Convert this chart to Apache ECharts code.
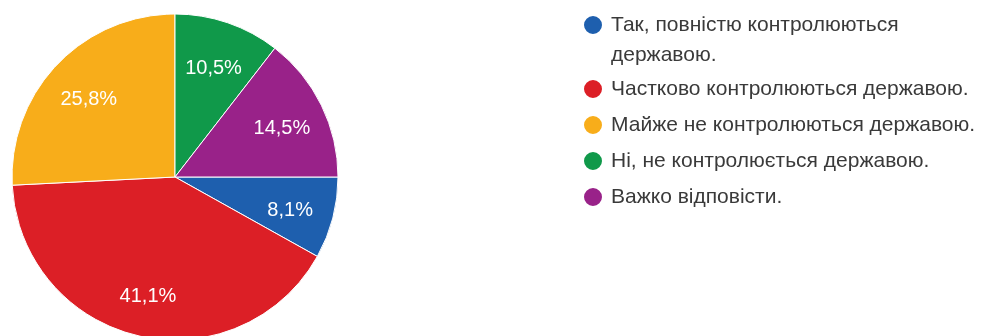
<!DOCTYPE html>
<html>
<head>
<meta charset="utf-8">
<style>
  html, body { margin: 0; padding: 0; background: #ffffff; }
  #chart { width: 988px; height: 336px; }
</style>
<script src="https://cdn.jsdelivr.net/npm/echarts@6/dist/echarts.min.js"></script>
</head>
<body>
<div id="chart"></div>
<script>
// Answer options, in legend order
const categories = [
  'Так, повністю контролюються державою.',
  'Частково контролюються державою.',
  'Майже не контролюються державою.',
  'Ні, не контролюється державою.',
  'Важко відповісти.'
];
// Share of responses, %
const shares = [8.1, 41.1, 25.8, 10.5, 14.5];
const colors = ['#1e5fae', '#dc1f26', '#f8ad1a', '#10994a', '#992289'];

const chart = echarts.init(document.getElementById('chart'), null, { renderer: 'canvas' });

const pieData = categories.map((name, i) => ({
  name: name,
  value: shares[i],
  itemStyle: { color: colors[i] }
}));

const fmt = p => String(p.value).replace('.', ',') + '%';

// The first option is long, so it wraps after the third word; the leading
// empty line keeps the marker level with the first text line.
const legendFormatter = name => name === categories[0]
  ? '\nТак, повністю контролюються\nдержавою.'
  : name;

chart.setOption({
  animation: false,
  backgroundColor: '#ffffff',
  legend: {
    orient: 'vertical',
    left: 582,
    top: -20,
    padding: 0,
    icon: 'circle',
    itemWidth: 26,
    itemHeight: 20,
    itemGap: 2,
    formatter: legendFormatter,
    data: categories.map((name, i) => i === 0
      ? { name: name, textStyle: { lineHeight: 30 } }
      : { name: name }),
    textStyle: {
      fontFamily: 'Liberation Sans, Arial, sans-serif',
      fontSize: 21,
      color: '#3a3a3a',
      lineHeight: 34
    }
  },
  series: [
    {
      type: 'pie',
      center: [175, 177],
      radius: [0, 163],
      startAngle: 0,
      clockwise: true,
      silent: true,
      data: pieData,
      itemStyle: { borderColor: '#ffffff', borderWidth: 1 },
      label: { show: false },
      labelLine: { show: false }
    },
    {
      // transparent ring used only to place the percentage labels
      type: 'pie',
      center: [175, 177],
      radius: [88, 144],
      startAngle: 0,
      clockwise: true,
      silent: true,
      data: categories.map((name, i) => ({ name: name, value: shares[i] })),
      itemStyle: { color: 'rgba(0,0,0,0)', borderWidth: 0 },
      label: {
        show: true,
        position: 'inside',
        formatter: fmt,
        color: '#ffffff',
        fontFamily: 'Liberation Sans, Arial, sans-serif',
        fontSize: 20
      },
      labelLayout: { dy: 4 },
      labelLine: { show: false }
    }
  ]
});
</script>
</body>
</html>
